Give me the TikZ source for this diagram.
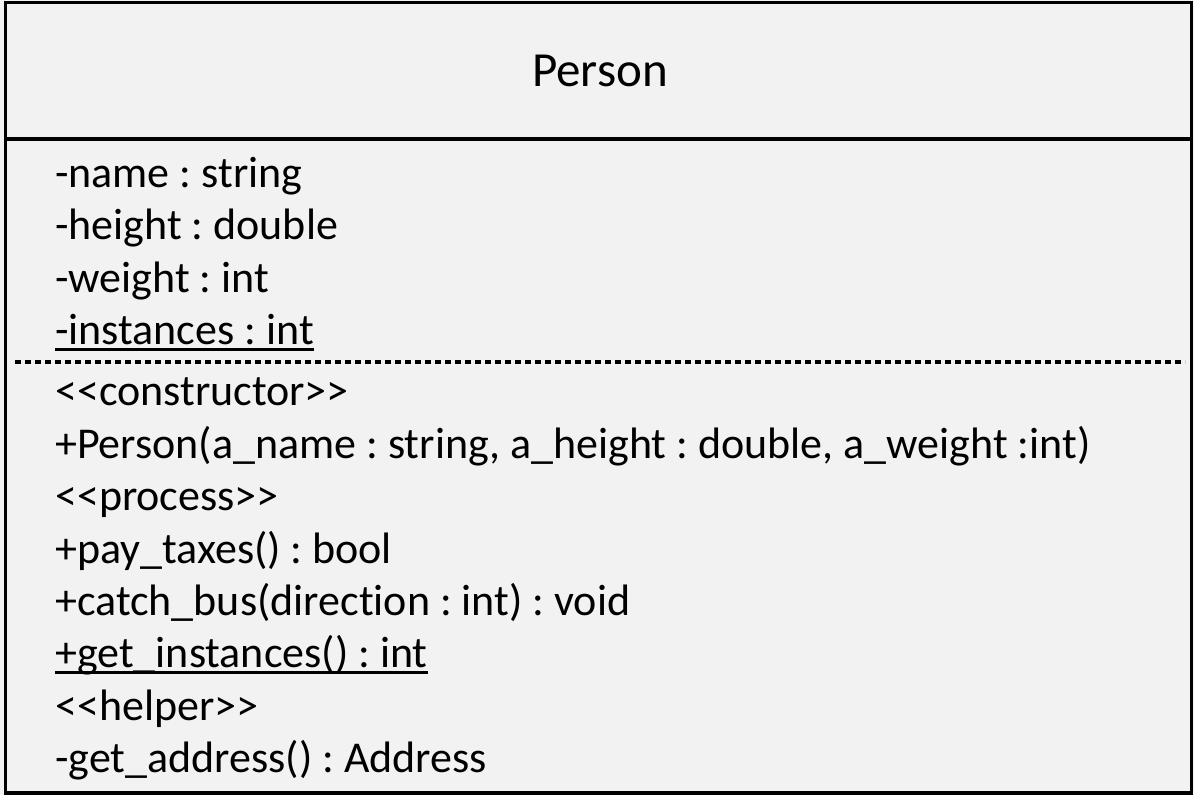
\documentclass[tikz,border=0pt]{standalone}
\usepackage{fontspec}
\newfontfamily\umlfont{Carlito}[Ligatures=NoCommon]
\frenchspacing
\tikzset{
  px/.style={x=1pt,y=-1pt},
  member/.style={anchor=base west,inner sep=0pt,font=\umlfont\fontsize{44}{48}\selectfont\frenchspacing,text=black},
  titletext/.style={anchor=base,inner sep=0pt,font=\umlfont\fontsize{49}{52}\selectfont,text=black},
  boxline/.style={line width=3.2pt,draw=black},
  sepdash/.style={line width=3.2pt,draw=black,dash pattern=on 6pt off 4pt},
  uline/.style={line width=3pt,draw=black}
}
\begin{document}
\begin{tikzpicture}[px]
\fill[fill={rgb,255:red,242;green,242;blue,242}] (0,0) rectangle (1194,795);
\useasboundingbox (0,0) rectangle (1194,795);
\draw[boxline] (5.5,2.5) rectangle (1191.5,793);
\draw[boxline] (5.5,139) -- (1191.5,139);
\draw[sepdash] (15,362) -- (1185,362);
\node[titletext] (title) at (600,86) {Person};
\node[member] (a1) at (55,187) {-name : string};
\node[member] (a2) at (55,239.5) {-height : double};
\node[member] (a3) at (55,292) {-weight : int};
\node[member] (a4) at (55,344) {-instances : int};
\node[member] (m1) at (55,405) {<<constructor>>};
\node[member] (m2) at (55,458) {+Person(a\_name : string, a\_height : double, a\_weight :int)};
\node[member] (m3) at (55,510) {<<process>>};
\node[member] (m4) at (55,563) {+pay\_taxes() : bool};
\node[member] (m5) at (55,615) {+catch\_bus(direction : int) : void};
\node[member] (m6) at (55,667) {+get\_instances() : int};
\node[member] (m7) at (55,720) {<<helper>>};
\node[member] (m8) at (55,772) {-get\_address() : Address};
\draw[uline] ([yshift=-5pt]a4.base west) -- ([yshift=-5pt]a4.base east);
\draw[uline] ([yshift=-5pt]m6.base west) -- ([yshift=-5pt]m6.base east);
\end{tikzpicture}
\end{document}
